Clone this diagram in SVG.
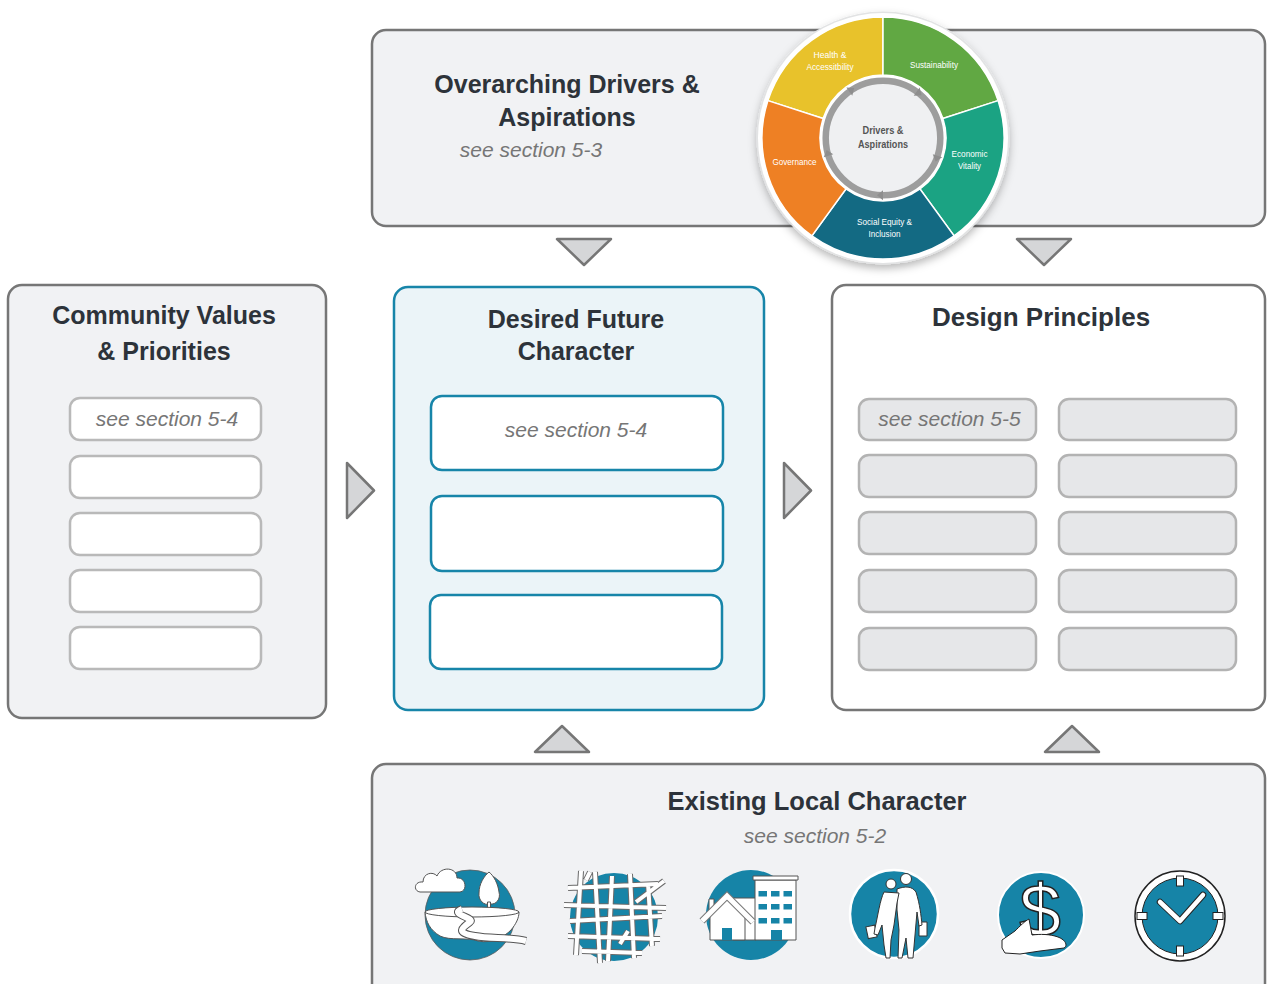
<svg xmlns="http://www.w3.org/2000/svg" width="1267" height="984" viewBox="0 0 1267 984">
  <defs>
    <style>
      .panel { fill: #f1f2f4; stroke: #767676; stroke-width: 2.5; }
      .panel-white { fill: #ffffff; stroke: #767676; stroke-width: 2.5; }
      .panel-blue { fill: #ebf4f8; stroke: #1785a9; stroke-width: 2.5; }
      .slot { fill: #ffffff; stroke: #b9b9b9; stroke-width: 2.5; }
      .slot-blue { fill: #ffffff; stroke: #1785a9; stroke-width: 2.5; }
      .slot-grey { fill: #e6e7e9; stroke: #b3b3b3; stroke-width: 2.5; }
      .title { font-family: "Liberation Sans", Arial, sans-serif; font-weight: bold; font-size: 25px; fill: #2d333a; text-anchor: middle; }
      .sub { font-family: "Liberation Sans", Arial, sans-serif; font-style: italic; font-size: 21px; fill: #767676; text-anchor: middle; }
      .tri { fill: #d5d6d8; stroke: #767676; stroke-width: 2.5; stroke-linejoin: round; }
      .seg { stroke: #ffffff; stroke-width: 1.5; }
      .seglbl { font-family: "Liberation Sans", Arial, sans-serif; font-size: 9px; fill: #ffffff; text-anchor: middle; }
      .hub { font-family: "Liberation Sans", Arial, sans-serif; font-weight: bold; font-size: 10px; fill: #555555; text-anchor: middle; }
      .ico { fill: #1684a7; }
      .wline { fill: #ffffff; stroke: #555555; stroke-width: 1; stroke-linejoin: round; }
      .street-o { fill: none; stroke: #6a6a6a; stroke-width: 6; stroke-linecap: butt; }
      .street-i { fill: none; stroke: #ffffff; stroke-width: 4; stroke-linecap: butt; }
    </style>
    <filter id="wheelShadow" x="-20%" y="-20%" width="140%" height="150%">
      <feDropShadow dx="0" dy="4" stdDeviation="4" flood-color="#000000" flood-opacity="0.28"/>
    </filter>
    <path id="streets" d="M581,871 L576,955 M595,872 L600,963 M612,876 L608,961 M630,874 L634,958 M648,883 L652,946 M568,888 L658,884 M564,905 L666,908 M570,921 L662,916 M568,936 L660,939 M582,951 L642,953 M636,902 L664,881 M586,880 L590,872 M620,944 L628,931"/>
  </defs>

  <!-- top panel: drivers and aspirations -->
  <g id="node-drivers">
    <rect class="panel" x="372" y="30" width="893" height="196" rx="14"/>
    <text class="title" x="567" y="93">Overarching Drivers &amp;</text>
    <text class="title" x="567" y="126">Aspirations</text>
    <text class="sub" x="531" y="157">see section 5-3</text>
  </g>

  <!-- drivers wheel -->
  <g id="node-wheel">
    <g filter="url(#wheelShadow)">
      <circle cx="883" cy="138" r="126.5" fill="#e2e3e4"/>
      <circle cx="883" cy="138" r="125" fill="#ffffff"/>
    </g>
    <path class="seg" fill="#e8c22b" d="M767.92,100.61 A121,121 0 0 1 883,17 L883,75 A63,63 0 0 0 823.08,118.53 Z"/>
    <path class="seg" fill="#61a843" d="M883,17 A121,121 0 0 1 998.08,100.61 L942.92,118.53 A63,63 0 0 0 883,75 Z"/>
    <path class="seg" fill="#1ba383" d="M998.08,100.61 A121,121 0 0 1 954.12,235.89 L920.03,188.97 A63,63 0 0 0 942.92,118.53 Z"/>
    <path class="seg" fill="#136a83" d="M954.12,235.89 A121,121 0 0 1 811.88,235.89 L845.97,188.97 A63,63 0 0 0 920.03,188.97 Z"/>
    <path class="seg" fill="#ee8024" d="M811.88,235.89 A121,121 0 0 1 767.92,100.61 L823.08,118.53 A63,63 0 0 0 845.97,188.97 Z"/>
    <circle cx="883" cy="138" r="57.3" fill="#eff0f2" stroke="#9d9d9d" stroke-width="6.5"/>
    <!-- cycle arrowheads on the hub ring -->
    <g fill="#8e8e8e">
      <path d="M0,-5 L6,0 L0,5 Z" transform="translate(883,138) rotate(-126) translate(57.3,0) rotate(90)"/>
      <path d="M0,-5 L6,0 L0,5 Z" transform="translate(883,138) rotate(-54) translate(57.3,0) rotate(90)"/>
      <path d="M0,-5 L6,0 L0,5 Z" transform="translate(883,138) rotate(18) translate(57.3,0) rotate(90)"/>
      <path d="M0,-5 L6,0 L0,5 Z" transform="translate(883,138) rotate(90) translate(57.3,0) rotate(90)"/>
      <path d="M0,-5 L6,0 L0,5 Z" transform="translate(883,138) rotate(162) translate(57.3,0) rotate(90)"/>
    </g>
    <text class="seglbl" x="830" y="57.5" textLength="33" lengthAdjust="spacingAndGlyphs">Health &amp;</text>
    <text class="seglbl" x="830" y="69.5" textLength="47" lengthAdjust="spacingAndGlyphs">Accessitbility</text>
    <text class="seglbl" x="934" y="68" textLength="48" lengthAdjust="spacingAndGlyphs">Sustainability</text>
    <text class="seglbl" x="969.5" y="156.5" textLength="36" lengthAdjust="spacingAndGlyphs">Economic</text>
    <text class="seglbl" x="969.5" y="168.5" textLength="23" lengthAdjust="spacingAndGlyphs">Vitality</text>
    <text class="seglbl" x="794.5" y="164.5" textLength="44" lengthAdjust="spacingAndGlyphs">Governance</text>
    <text class="seglbl" x="884.5" y="225" textLength="55" lengthAdjust="spacingAndGlyphs">Social Equity &amp;</text>
    <text class="seglbl" x="884.5" y="237" textLength="32" lengthAdjust="spacingAndGlyphs">Inclusion</text>
    <text class="hub" x="883" y="134" textLength="41" lengthAdjust="spacingAndGlyphs">Drivers &amp;</text>
    <text class="hub" x="883" y="147.5" textLength="50" lengthAdjust="spacingAndGlyphs">Aspirations</text>
  </g>

  <!-- left panel -->
  <g id="node-community">
    <rect class="panel" x="8" y="285" width="318" height="433" rx="14"/>
    <text class="title" x="164" y="324">Community Values</text>
    <text class="title" x="164" y="360">&amp; Priorities</text>
    <rect class="slot" x="70" y="398" width="191" height="42" rx="10"/>
    <rect class="slot" x="70" y="456" width="191" height="42" rx="10"/>
    <rect class="slot" x="70" y="513" width="191" height="42" rx="10"/>
    <rect class="slot" x="70" y="570" width="191" height="42" rx="10"/>
    <rect class="slot" x="70" y="627" width="191" height="42" rx="10"/>
    <text class="sub" x="167" y="426">see section 5-4</text>
  </g>

  <!-- centre panel -->
  <g id="node-future">
    <rect class="panel-blue" x="394" y="287" width="370" height="423" rx="14"/>
    <text class="title" x="576" y="328">Desired Future</text>
    <text class="title" x="576" y="360">Character</text>
    <rect class="slot-blue" x="431" y="396" width="292" height="74" rx="11"/>
    <rect class="slot-blue" x="431" y="496" width="292" height="75" rx="11"/>
    <rect class="slot-blue" x="430" y="595" width="292" height="74" rx="11"/>
    <text class="sub" x="576" y="437">see section 5-4</text>
  </g>

  <!-- right panel -->
  <g id="node-principles">
    <rect class="panel-white" x="832" y="285" width="433" height="425" rx="14"/>
    <text class="title" x="1041" y="326" style="font-size:26px">Design Principles</text>
    <rect class="slot-grey" x="859" y="399" width="177" height="41" rx="10"/>
    <rect class="slot-grey" x="859" y="455" width="177" height="42" rx="10"/>
    <rect class="slot-grey" x="859" y="512" width="177" height="42" rx="10"/>
    <rect class="slot-grey" x="859" y="570" width="177" height="42" rx="10"/>
    <rect class="slot-grey" x="859" y="628" width="177" height="42" rx="10"/>
    <rect class="slot-grey" x="1059" y="399" width="177" height="41" rx="10"/>
    <rect class="slot-grey" x="1059" y="455" width="177" height="42" rx="10"/>
    <rect class="slot-grey" x="1059" y="512" width="177" height="42" rx="10"/>
    <rect class="slot-grey" x="1059" y="570" width="177" height="42" rx="10"/>
    <rect class="slot-grey" x="1059" y="628" width="177" height="42" rx="10"/>
    <text class="sub" x="949.5" y="426">see section 5-5</text>
  </g>

  <!-- bottom panel -->
  <g id="node-existing">
    <rect class="panel" x="372" y="764" width="893" height="240" rx="14"/>
    <text class="title" x="817" y="810" style="font-size:25.5px">Existing Local Character</text>
    <text class="sub" x="815" y="843">see section 5-2</text>
  </g>

  <!-- landscape icon -->
  <g id="icon-landscape">
    <circle class="ico" cx="470" cy="915" r="45" stroke="#5a5a5a" stroke-width="0.8"/>
    <path class="wline" d="M420,892 C413,891 414,881 423,882 C423,873 433,871 437,876 C441,866 457,867 457,878 C466,877 468,891 460,892 Z"/>
    <path class="wline" d="M489,872 C494,876 498,884 499,892 C501,899 496,905 490,904 C484,906 478,900 479,893 C479,884 484,876 489,872 Z"/>
    <rect class="wline" x="487.5" y="902" width="3" height="16"/>
    <path class="wline" d="M425,912 C426,922 430,930 440,936 C450,941 468,937 478,941 C492,944 504,937 511,930 C516,924 519,918 519,912 Z"/>
    <ellipse class="wline" cx="472" cy="912" rx="47" ry="5"/>
    <path d="M462,909 C448,914 476,918 470,922 C462,928 455,933 475,936 C490,939 510,937 526,941" fill="none" stroke="#555555" stroke-width="8"/>
    <path d="M462,909 C448,914 476,918 470,922 C462,928 455,933 475,936 C490,939 510,937 526,941" fill="none" stroke="#ffffff" stroke-width="6"/>
  </g>

  <!-- street network icon -->
  <g id="icon-streets">
    <circle class="ico" cx="614" cy="917" r="44"/>
    <use href="#streets" class="street-o"/>
    <use href="#streets" class="street-i"/>
  </g>

  <!-- buildings icon -->
  <g id="icon-buildings">
    <circle class="ico" cx="751" cy="915" r="45"/>
    <rect class="wline" x="733" y="898" width="23" height="42" stroke="#777777"/>
    <rect class="wline" x="755" y="880" width="41" height="60" stroke="#777777"/>
    <rect class="wline" x="753" y="876" width="45" height="4" stroke="#777777"/>
    <g class="ico">
      <rect x="758.5" y="891" width="8.5" height="5.5"/>
      <rect x="771" y="891" width="8.5" height="5.5"/>
      <rect x="783.5" y="891" width="8.5" height="5.5"/>
      <rect x="758.5" y="904" width="8.5" height="5.5"/>
      <rect x="771" y="904" width="8.5" height="5.5"/>
      <rect x="783.5" y="904" width="8.5" height="5.5"/>
      <rect x="758.5" y="918" width="8.5" height="5.5"/>
      <rect x="771" y="918" width="8.5" height="5.5"/>
      <rect x="783.5" y="918" width="8.5" height="5.5"/>
      <rect x="771" y="930" width="11" height="10"/>
    </g>
    <rect class="wline" x="709" y="899" width="5" height="12" stroke="#777777"/>
    <path class="wline" d="M710,912 L727,897 L745,913 L745,940 L710,940 Z" stroke="#777777"/>
    <path d="M702,921 L727,896 L753,922" fill="none" stroke="#777777" stroke-width="7" stroke-linejoin="miter"/>
    <path d="M702,921 L727,896 L753,922" fill="none" stroke="#ffffff" stroke-width="5" stroke-linejoin="miter"/>
    <rect class="ico" x="722" y="928" width="10" height="12"/>
  </g>

  <!-- people icon -->
  <g id="icon-people">
    <circle class="ico" cx="894" cy="914" r="44" stroke="#ffffff" stroke-width="2.5"/>
    <g fill="#ffffff" stroke="#333333" stroke-width="1" stroke-linejoin="round">
      <rect x="867" y="926" width="9" height="12" transform="rotate(-12 871 932)"/>
      <rect x="919" y="922" width="8" height="14"/>
      <circle cx="906" cy="879" r="5.5"/>
      <path d="M897,889 C905,886 912,886 916,892 C920,905 921,915 922,925 L919,926 L917,912 L915,935 L913,958 L908,958 L906,938 L902,958 L898,958 L899,930 L897,910 Z"/>
      <circle cx="891" cy="884" r="5"/>
      <path d="M884,892 C880,900 878,915 875,928 L874,934 L878,935 L882,925 L884,945 L886,958 L890,958 L891,940 L894,925 L897,903 L899,893 Z"/>
    </g>
  </g>

  <!-- money icon -->
  <g id="icon-money">
    <circle class="ico" cx="1041" cy="915" r="43" stroke="#ffffff" stroke-width="2"/>
    <text x="1040" y="936" font-family="Liberation Sans, Arial, sans-serif" font-size="75" fill="#ffffff" stroke="#222222" stroke-width="1.5" text-anchor="middle">$</text>
    <path d="M1002,940 L1015,931 C1020,926 1025,921 1029,919 L1032,935 C1040,934 1050,934 1058,937 C1066,940 1068,946 1064,948 L1040,951 L1020,954 L1005,953 L1002,948 Z" fill="#ffffff" stroke="#222222" stroke-width="1" stroke-linejoin="round"/>
  </g>

  <!-- clock icon -->
  <g id="icon-clock">
    <circle cx="1180" cy="916" r="45" fill="#ffffff" stroke="#222222" stroke-width="1.5"/>
    <circle class="ico" cx="1180" cy="916" r="38" stroke="#222222" stroke-width="1"/>
    <g fill="#ffffff" stroke="#222222" stroke-width="1">
      <rect x="1176.5" y="876" width="7" height="10"/>
      <rect x="1176.5" y="946" width="7" height="10"/>
      <rect x="1137" y="912.5" width="10" height="7"/>
      <rect x="1213" y="912.5" width="10" height="7"/>
    </g>
    <path d="M1160,902 L1180,921 L1203,895" fill="none" stroke="#222222" stroke-width="6.5" stroke-linecap="round" stroke-linejoin="round"/>
    <path d="M1160,902 L1180,921 L1203,895" fill="none" stroke="#ffffff" stroke-width="4.5" stroke-linecap="round" stroke-linejoin="round"/>
  </g>

  <!-- flow arrows -->
  <g id="connectors">
    <path class="tri" d="M557,239 L611,239 L584,265 Z"/>
    <path class="tri" d="M1017,239 L1071,239 L1044,265 Z"/>
    <path class="tri" d="M347,463 L347,518 L374,490.5 Z"/>
    <path class="tri" d="M784,463 L784,518 L811,490.5 Z"/>
    <path class="tri" d="M535,752 L589,752 L562,726 Z"/>
    <path class="tri" d="M1045,752 L1099,752 L1072,726 Z"/>
  </g>
</svg>
